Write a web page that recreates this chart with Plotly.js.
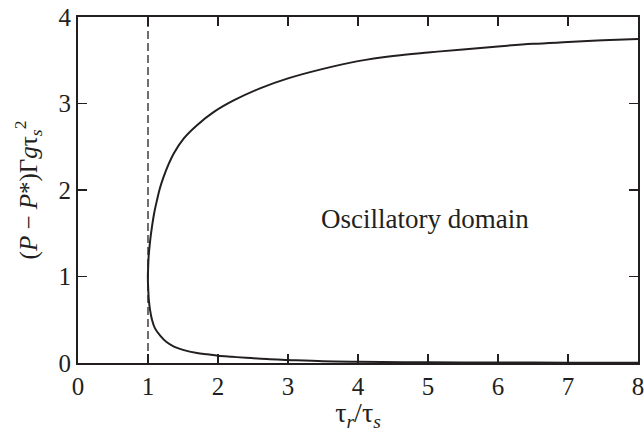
<!DOCTYPE html>
<html>
<head>
<meta charset="utf-8">
<script src="https://cdn.plot.ly/plotly-3.0.1.min.js"></script>
<style>html,body{margin:0;padding:0;background:#fff;}#chart{width:644px;height:432px;}</style>
</head>
<body>
<div id="chart"></div>
<script>
// Upper branch of the boundary (tau_r/tau_s, (P-P*)Γgτs²)
const upperX = [0.998, 1.002, 1.009, 1.03, 1.057, 1.09, 1.129, 1.17, 1.223, 1.29, 1.366, 1.509, 1.7, 1.937, 2.223, 2.6, 3.0, 3.5, 4.0, 4.5, 5.0, 5.5, 6.0, 6.5, 7.0, 7.5, 8.0];
const upperY = [1.0, 1.1, 1.23, 1.41, 1.576, 1.74, 1.884, 2.02, 2.152, 2.29, 2.42, 2.595, 2.75, 2.90, 3.035, 3.175, 3.29, 3.40, 3.49, 3.55, 3.59, 3.625, 3.66, 3.69, 3.71, 3.73, 3.745];
// Lower branch
const lowerX = [8.0, 7.0, 6.0, 5.0, 4.0, 3.5, 3.0, 2.7, 2.4, 2.2, 2.0, 1.85, 1.7, 1.5, 1.37, 1.26, 1.18, 1.1, 1.057, 1.028, 1.012, 1.003];
const lowerY = [0.003, 0.004, 0.005, 0.008, 0.014, 0.02, 0.035, 0.045, 0.06, 0.072, 0.085, 0.1, 0.115, 0.152, 0.19, 0.245, 0.31, 0.40, 0.50, 0.62, 0.73, 0.86];
// Dashed reference line at tau_r/tau_s = 1
const refX = [1, 1];
const refY = [0, 4];
const xTicks = [0, 1, 2, 3, 4, 5, 6, 7, 8];
const yTicks = [0, 1, 2, 3, 4];
const annText = "Oscillatory domain";
const annX = 4.96;
const annY = 1.66;

const curveX = lowerX.concat(upperX);
const curveY = lowerY.concat(upperY);

const font = {family: "Liberation Serif, Times New Roman, serif", size: 25, color: "#231f20"};
const axisCommon = {
  showline: true, mirror: "ticks", linecolor: "#231f20", linewidth: 2,
  ticks: "inside", ticklen: 9, tickwidth: 1.5, tickcolor: "#231f20",
  showgrid: false, zeroline: false, tickfont: font, automargin: false,
  ticklabeloverflow: "allow"
};

const data = [
  {x: refX, y: refY, mode: "lines", line: {color: "#231f20", width: 1.3, dash: "8px,4px"}, hoverinfo: "skip"},
  {x: curveX, y: curveY, mode: "lines", line: {color: "#231f20", width: 2, shape: "spline", smoothing: 1}}
];

const layout = {
  width: 644, height: 432,
  margin: {l: 78, r: 6, t: 17, b: 69},
  paper_bgcolor: "#fff", plot_bgcolor: "#fff",
  showlegend: false,
  font: font,
  xaxis: Object.assign({}, axisCommon, {
    range: [0, 8], tickvals: xTicks, ticktext: xTicks.map(String),
    title: {text: "τ<sub><i>r</i></sub>/τ<sub><i>s</i></sub>", font: {family: font.family, size: 28, color: font.color}, standoff: 2}
  }),
  yaxis: Object.assign({}, axisCommon, {
    range: [0, 4], tickvals: yTicks, ticktext: yTicks.map(String),
    title: {text: "(<i>P</i> − <i>P</i>*)Γ<i>g</i>τ<sub><i>s</i></sub><sup>2</sup>", font: font, standoff: 14}
  }),
  annotations: [{x: annX, y: annY, xref: "x", yref: "y", text: annText, showarrow: false,
    font: {family: font.family, size: 27, color: font.color}}]
};

Plotly.newPlot("chart", data, layout, {displayModeBar: false, staticPlot: true});
</script>
</body>
</html>
